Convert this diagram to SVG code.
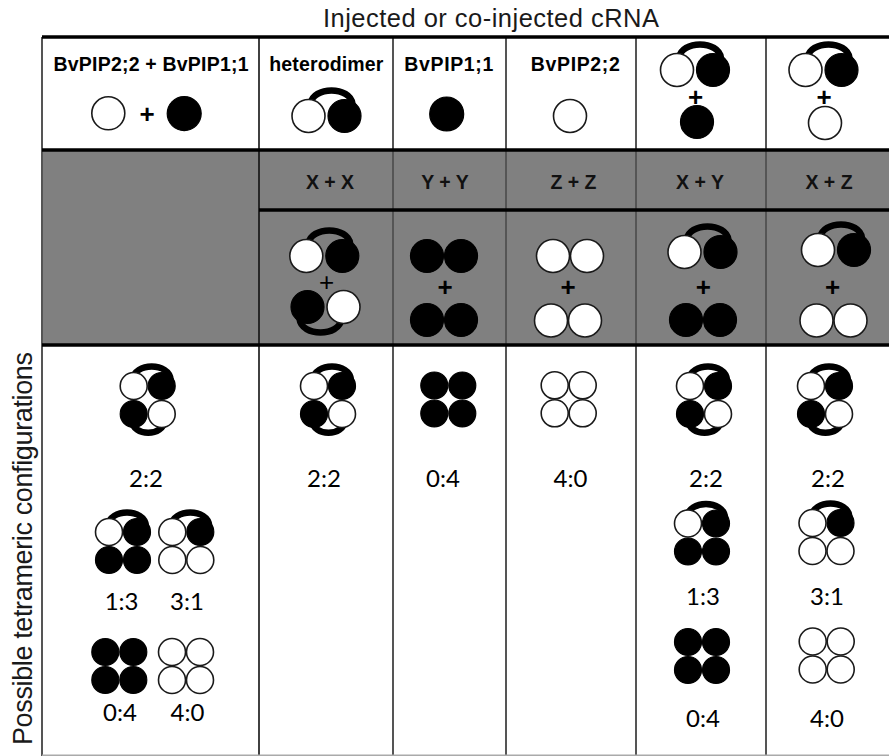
<svg xmlns="http://www.w3.org/2000/svg" xmlns:xlink="http://www.w3.org/1999/xlink" width="889" height="756" viewBox="0 0 889 756">
  <style>
    .w { fill: #ffffff; stroke: #1a1a1a; stroke-width: 1.6; }
    .b { fill: #000000; stroke: #000000; stroke-width: 1.2; }
    .arc { fill: none; stroke: #000000; stroke-width: 6.5; stroke-linecap: round; }
    .title { font-family: "Liberation Sans", Arial, sans-serif; font-size: 25.5px; fill: #1a1a1a; }
    .axis { font-family: "Liberation Sans", Arial, sans-serif; font-size: 27px; fill: #1a1a1a; }
    .hdr { font-family: "Liberation Sans", Arial, sans-serif; font-weight: bold; font-size: 19.5px; text-anchor: middle; fill: #000; }
    .pair { font-family: "Liberation Sans", Arial, sans-serif; font-weight: bold; font-size: 19.5px; text-anchor: middle; fill: #111; }
    .plusb { font-family: "Liberation Sans", Arial, sans-serif; font-weight: bold; font-size: 26px; text-anchor: middle; fill: #000; }
    .plus { font-family: "Liberation Sans", Arial, sans-serif; font-size: 26px; text-anchor: middle; fill: #000; }
    .ratio { font-family: Lato, "Liberation Sans", sans-serif; font-size: 24px; text-anchor: middle; fill: #000; }
    .grid { stroke: #555555; stroke-width: 2; fill: none; }
    .thick { stroke: #000000; stroke-width: 3.5; fill: none; }
  </style>
  <defs>
    <!-- heterodimer: white + black subunit joined by a linker arc -->
    <g id="dimer">
      <path class="arc" d="M -16,-12 C -14,-30 24,-30 26,-12"/>
      <circle class="b" cx="18" cy="0" r="16.5"/>
      <circle class="w" cx="-18" cy="0" r="16.5"/>
    </g>
    <!-- homodimers -->
    <g id="bb">
      <circle class="b" cx="-17" cy="0" r="16.5"/>
      <circle class="b" cx="17" cy="0" r="16.5"/>
    </g>
    <g id="ww">
      <circle class="w" cx="-17" cy="0" r="16.5"/>
      <circle class="w" cx="17" cy="0" r="16.5"/>
    </g>
    <!-- linker arcs of a tetramer -->
    <path id="arcTop" class="arc" d="M -15,-20 C -14,-38 22,-38 23,-20"/>
    <path id="arcBot" class="arc" d="M -16,20 C -15,37 16,37 17,20"/>
    <!-- tetramers (white:black) -->
    <g id="t22">
      <use xlink:href="#arcTop" href="#arcTop"/>
      <use xlink:href="#arcBot" href="#arcBot"/>
      <circle class="b" cx="14" cy="-14" r="13.5"/>
      <circle class="w" cx="-14" cy="-14" r="13.5"/>
      <circle class="b" cx="-14" cy="14" r="13.5"/>
      <circle class="w" cx="14" cy="14" r="13.5"/>
    </g>
    <g id="t13">
      <use xlink:href="#arcTop" href="#arcTop"/>
      <circle class="b" cx="14" cy="-14" r="13.5"/>
      <circle class="w" cx="-14" cy="-14" r="13.5"/>
      <circle class="b" cx="-14" cy="14" r="13.5"/>
      <circle class="b" cx="14" cy="14" r="13.5"/>
    </g>
    <g id="t31">
      <use xlink:href="#arcTop" href="#arcTop"/>
      <circle class="b" cx="14" cy="-14" r="13.5"/>
      <circle class="w" cx="-14" cy="-14" r="13.5"/>
      <circle class="w" cx="-14" cy="14" r="13.5"/>
      <circle class="w" cx="14" cy="14" r="13.5"/>
    </g>
    <g id="t04">
      <circle class="b" cx="-14" cy="-14" r="13.5"/>
      <circle class="b" cx="14" cy="-14" r="13.5"/>
      <circle class="b" cx="-14" cy="14" r="13.5"/>
      <circle class="b" cx="14" cy="14" r="13.5"/>
    </g>
    <g id="t40">
      <circle class="w" cx="-14" cy="-14" r="13.5"/>
      <circle class="w" cx="14" cy="-14" r="13.5"/>
      <circle class="w" cx="-14" cy="14" r="13.5"/>
      <circle class="w" cx="14" cy="14" r="13.5"/>
    </g>
  </defs>

  <rect x="0" y="0" width="889" height="756" fill="#ffffff"/>

  <!-- titles -->
  <g id="title">
    <text class="title" x="323" y="27" textLength="336" lengthAdjust="spacing">Injected or co-injected cRNA</text>
  </g>
  <g id="axis-label">
    <text class="axis" transform="translate(32,745) rotate(-90)" x="0" y="0" textLength="393" lengthAdjust="spacing">Possible tetrameric configurations</text>
  </g>

  <!-- table frame -->
  <g id="table">
    <rect x="42" y="150" width="847" height="195" fill="#808080"/>
    <line class="grid" x1="42" y1="37" x2="42" y2="756" stroke="#666666"/>
    <line x1="259" y1="37" x2="259" y2="756" stroke="#111111" stroke-width="1.6"/>
    <line class="grid" x1="393" y1="37" x2="393" y2="756"/>
    <line class="grid" x1="506" y1="37" x2="506" y2="756"/>
    <line class="grid" x1="636" y1="37" x2="636" y2="756"/>
    <line class="grid" x1="766" y1="37" x2="766" y2="756" stroke="#444444"/>
    <line class="thick" x1="42" y1="37" x2="889" y2="37"/>
    <line class="thick" x1="42" y1="150" x2="889" y2="150" stroke-width="3"/>
    <line class="thick" x1="259" y1="210" x2="889" y2="210" stroke-width="3"/>
    <line class="thick" x1="42" y1="345" x2="889" y2="345"/>
    <line x1="42" y1="755.2" x2="889" y2="755.2" stroke="#aaaaaa" stroke-width="1.5"/>
  </g>

  <!-- injected cRNA header row -->
  <g id="hdr-coinjected">
    <text class="hdr" x="151" y="71" textLength="195" lengthAdjust="spacing">BvPIP2;2 + BvPIP1;1</text>
    <circle class="w" cx="108.3" cy="113.3" r="16.5"/>
    <text class="plusb" x="147" y="123" font-size="28">+</text>
    <circle class="b" cx="184.2" cy="113.6" r="17"/>
  </g>
  <g id="hdr-heterodimer">
    <text class="hdr" x="326.3" y="71" textLength="114" lengthAdjust="spacing">heterodimer</text>
    <use xlink:href="#dimer" href="#dimer" transform="translate(326.5,116)"/>
  </g>
  <g id="hdr-pip11">
    <text class="hdr" x="448.8" y="71" textLength="89" lengthAdjust="spacing">BvPIP1;1</text>
    <circle class="b" cx="446.7" cy="114" r="17"/>
  </g>
  <g id="hdr-pip22">
    <text class="hdr" x="575.3" y="71" textLength="89" lengthAdjust="spacing">BvPIP2;2</text>
    <circle class="w" cx="570" cy="116" r="16.5"/>
  </g>
  <g id="hdr-dimer-pip11">
    <use xlink:href="#dimer" href="#dimer" transform="translate(695,70)"/>
    <text class="plusb" x="695.5" y="106">+</text>
    <circle class="b" cx="697" cy="122" r="16.5"/>
  </g>
  <g id="hdr-dimer-pip22">
    <use xlink:href="#dimer" href="#dimer" transform="translate(823.5,70)"/>
    <text class="plusb" x="824" y="106">+</text>
    <circle class="w" cx="825" cy="123" r="16.5"/>
  </g>

  <!-- dimer combinations (grey band) -->
  <g id="pair-xx">
    <text class="pair" x="330" y="189">X + X</text>
    <use xlink:href="#dimer" href="#dimer" transform="translate(324.3,256)"/>
    <text class="plus" x="326.7" y="291">+</text>
    <use xlink:href="#dimer" href="#dimer" transform="translate(325.5,307) rotate(180)"/>
  </g>
  <g id="pair-yy">
    <text class="pair" x="445" y="189">Y + Y</text>
    <use xlink:href="#bb" href="#bb" transform="translate(444,256)"/>
    <text class="plusb" x="445" y="296">+</text>
    <use xlink:href="#bb" href="#bb" transform="translate(444,320)"/>
  </g>
  <g id="pair-zz">
    <text class="pair" x="573.5" y="189">Z + Z</text>
    <use xlink:href="#ww" href="#ww" transform="translate(570,256)"/>
    <text class="plusb" x="568" y="296">+</text>
    <use xlink:href="#ww" href="#ww" transform="translate(568,320.5)"/>
  </g>
  <g id="pair-xy">
    <text class="pair" x="700" y="189">X + Y</text>
    <use xlink:href="#dimer" href="#dimer" transform="translate(702.5,252)"/>
    <text class="plusb" x="703.3" y="296">+</text>
    <use xlink:href="#bb" href="#bb" transform="translate(703,320)"/>
  </g>
  <g id="pair-xz">
    <text class="pair" x="829" y="189">X + Z</text>
    <use xlink:href="#dimer" href="#dimer" transform="translate(836,250)"/>
    <text class="plusb" x="832.7" y="296">+</text>
    <use xlink:href="#ww" href="#ww" transform="translate(833.5,320.5)"/>
  </g>

  <!-- possible tetramers -->
  <g id="tet-coinjected">
    <use xlink:href="#t22" href="#t22" transform="translate(147.7,400)"/>
    <text class="ratio" x="146" y="487">2:2</text>
    <use xlink:href="#t13" href="#t13" transform="translate(123,546)"/>
    <text class="ratio" x="121.6" y="610">1:3</text>
    <use xlink:href="#t31" href="#t31" transform="translate(186.3,546)"/>
    <text class="ratio" x="187" y="610">3:1</text>
    <use xlink:href="#t04" href="#t04" transform="translate(119.3,666)"/>
    <text class="ratio" x="120" y="721">0:4</text>
    <use xlink:href="#t40" href="#t40" transform="translate(186,666)"/>
    <text class="ratio" x="187.5" y="721">4:0</text>
  </g>
  <g id="tet-heterodimer">
    <use xlink:href="#t22" href="#t22" transform="translate(328,400)"/>
    <text class="ratio" x="324" y="487">2:2</text>
  </g>
  <g id="tet-pip11">
    <use xlink:href="#t04" href="#t04" transform="translate(448.3,399.5)"/>
    <text class="ratio" x="443" y="487">0:4</text>
  </g>
  <g id="tet-pip22">
    <use xlink:href="#t40" href="#t40" transform="translate(568.7,399.3)"/>
    <text class="ratio" x="570.5" y="487">4:0</text>
  </g>
  <g id="tet-xy">
    <use xlink:href="#t22" href="#t22" transform="translate(704,400)"/>
    <text class="ratio" x="706" y="487">2:2</text>
    <use xlink:href="#t13" href="#t13" transform="translate(702,537.5)"/>
    <text class="ratio" x="703" y="605">1:3</text>
    <use xlink:href="#t04" href="#t04" transform="translate(702,656)"/>
    <text class="ratio" x="703" y="727">0:4</text>
  </g>
  <g id="tet-xz">
    <use xlink:href="#t22" href="#t22" transform="translate(825,400)"/>
    <text class="ratio" x="828" y="487">2:2</text>
    <use xlink:href="#t31" href="#t31" transform="translate(826.5,537)"/>
    <text class="ratio" x="827" y="605">3:1</text>
    <use xlink:href="#t40" href="#t40" transform="translate(826.7,655.5)"/>
    <text class="ratio" x="827" y="727">4:0</text>
  </g>
</svg>
